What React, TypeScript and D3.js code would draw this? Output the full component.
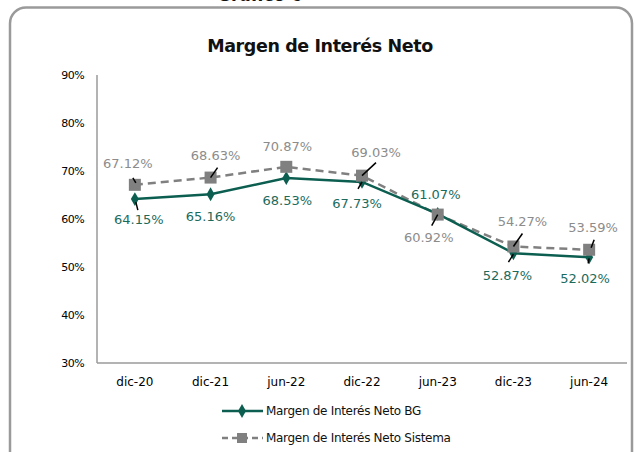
import React from "react";
import * as d3 from "d3";

const categories = ["dic-20", "dic-21", "jun-22", "dic-22", "jun-23", "dic-23", "jun-24"];
const bgValues = [64.15, 65.16, 68.53, 67.73, 61.07, 52.87, 52.02];
const sistemaValues = [67.12, 68.63, 70.87, 69.03, 60.92, 54.27, 53.59];
const yTicks = [30, 40, 50, 60, 70, 80, 90];
const seriesNames = ["Margen de Interés Neto BG", "Margen de Interés Neto Sistema"];
const chartTitle = "Margen de Interés Neto";

// layout: label offsets (text center) and leader lines relative to points
const sisLabelOff = [[-7, -22], [5, -23], [1, -21], [14, -24], [-9, 22], [9, -26], [4, -23]];
const bgLabelOff = [[4, 20], [0, 22], [1, 22], [-5, 21], [-2, -20], [-6, 22], [-4, 21]];
const sisLeaders: (number[] | null)[] = [[-2, -7, 1, -2], [0, 0, 7, -10], null, [0, 0, 14, -13], [-6, 11, 0, 0], [0, 0, 9, -13], [2, -2, 5, -10]];
const bgLeaders: (number[] | null)[] = [[1, 3, 3, 11], null, null, [-4, 7, 0, 0], null, [-5, 9, 0, 1], [-1, 6, 0, 1]];

const W = 638, H = 452;
const left = 97, right = 627, top = 75, bottom = 363;
const GREEN = "#0c5e50";
const GREEN_TXT = "#1b6b5d";
const GREY = "#808080";
const GREY_TXT = "#8c8c8c";
const FONT = "'DejaVu Sans', Verdana, sans-serif";

export default function App() {
  const x = d3.scaleBand().domain(categories).range([left, right]);
  const y = d3.scaleLinear().domain([30, 90]).range([bottom, top]);
  const cx = (i: number) => (x(categories[i]) as number) + x.bandwidth() / 2;
  const line = d3.line<number>().x((_, i) => cx(i)).y((d) => y(d));
  const diamond = d3.symbol().type(d3.symbolDiamond).size(55)() as string;
  const fmt = (v: number) => v.toFixed(2) + "%";

  return (
    <svg width={W} height={H} style={{ position: "absolute", left: 0, top: 0, background: "#fff" }}>
      <text x={260} y={1} textAnchor="middle" fontFamily={FONT} fontWeight="bold" fontSize={17} fill="#111">Gráfico 6</text>
      <rect x={10} y={7.5} width={622} height={460} rx={16} ry={16} fill="#fff" stroke="#9a9a9a" strokeWidth={2.5} />
      <text x={320} y={52} textAnchor="middle" fontFamily={FONT} fontWeight="bold" fontSize={17.5} fill="#111" letterSpacing={-0.4}>{chartTitle}</text>

      {/* axes */}
      <line x1={left} x2={left} y1={top} y2={bottom} stroke="#9a9a9a" strokeWidth={1.5} />
      <line x1={left} x2={right} y1={bottom} y2={bottom} stroke="#9a9a9a" strokeWidth={1.5} />
      {yTicks.map((t) => (
        <text key={t} x={84} y={y(t) + 4} textAnchor="end" fontFamily={FONT} fontSize={11} fill="#000" letterSpacing={-0.6}>{t}%</text>
      ))}
      {categories.map((c, i) => (
        <text key={c} x={cx(i)} y={386} textAnchor="middle" fontFamily={FONT} fontSize={12} fill="#000">{c}</text>
      ))}

      {/* sistema */}
      <path d={line(sistemaValues) as string} fill="none" stroke={GREY} strokeWidth={2.5} strokeDasharray="8,5" />
      {/* BG */}
      <path d={line(bgValues) as string} fill="none" stroke={GREEN} strokeWidth={2.5} />
      {bgValues.map((v, i) => (
        <path key={"d" + i} d={diamond} transform={`translate(${cx(i)},${y(v)})`} fill={GREEN} />
      ))}
      {sistemaValues.map((v, i) => (
        <rect key={"s" + i} x={cx(i) - 6} y={y(v) - 6} width={12} height={12} fill={GREY} />
      ))}

      {/* leaders */}
      {sisLeaders.map((l, i) => l && (
        <line key={"sl" + i} x1={cx(i) + l[0]} y1={y(sistemaValues[i]) + l[1]} x2={cx(i) + l[2]} y2={y(sistemaValues[i]) + l[3]} stroke="#000" strokeWidth={1.5} />
      ))}
      {bgLeaders.map((l, i) => l && (
        <line key={"bl" + i} x1={cx(i) + l[0]} y1={y(bgValues[i]) + l[1]} x2={cx(i) + l[2]} y2={y(bgValues[i]) + l[3]} stroke="#000" strokeWidth={1.5} />
      ))}

      {/* labels */}
      {sistemaValues.map((v, i) => (
        <text key={"st" + i} x={cx(i) + sisLabelOff[i][0]} y={y(v) + sisLabelOff[i][1] + 5} textAnchor="middle" fontFamily={FONT} fontSize={13} fill={GREY_TXT}>{fmt(v)}</text>
      ))}
      {bgValues.map((v, i) => (
        <text key={"bt" + i} x={cx(i) + bgLabelOff[i][0]} y={y(v) + bgLabelOff[i][1] + 5} textAnchor="middle" fontFamily={FONT} fontSize={13} fill={GREEN_TXT}>{fmt(v)}</text>
      ))}

      {/* legend */}
      <g>
        <line x1={222} x2={263} y1={411} y2={411} stroke={GREEN} strokeWidth={2.5} />
        <path d={diamond} transform="translate(242,411)" fill={GREEN} />
        <text x={266} y={415} fontFamily={FONT} fontSize={12} fill="#111" letterSpacing={-0.3}>{seriesNames[0]}</text>
        <line x1={222} x2={263} y1={438} y2={438} stroke={GREY} strokeWidth={2.5} strokeDasharray="6,4" />
        <rect x={237} y={433} width={10} height={10} fill={GREY} />
        <text x={266} y={442} fontFamily={FONT} fontSize={12} fill="#111" letterSpacing={-0.3}>{seriesNames[1]}</text>
      </g>
    </svg>
  );
}
